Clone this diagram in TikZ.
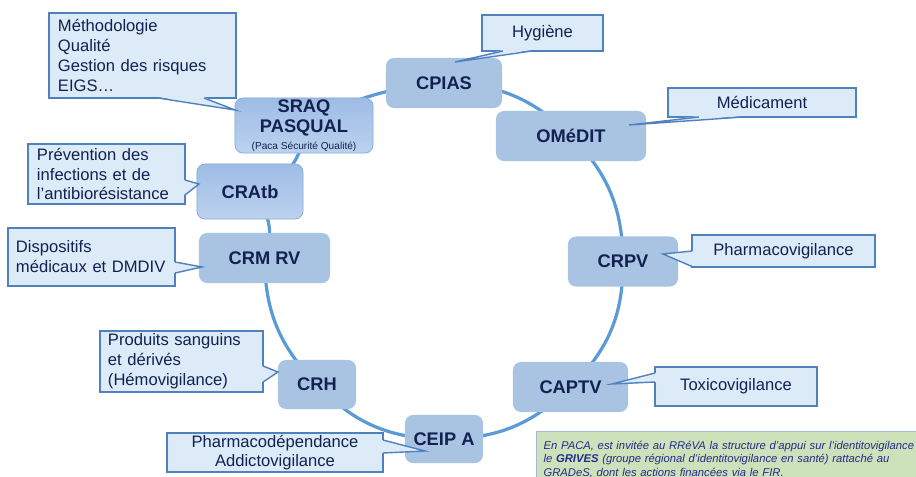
\documentclass[tikz,border=0pt]{standalone}
\usepackage{fontspec}
\setmainfont{Liberation Sans}
\usetikzlibrary{calc,backgrounds}
\definecolor{ringblue}{RGB}{91,155,213}
\definecolor{hubblue}{RGB}{168,196,226}
\definecolor{hubtop}{RGB}{158,188,228}
\definecolor{hubbottom}{RGB}{188,210,239}
\definecolor{hubline}{RGB}{140,176,220}
\definecolor{navy}{RGB}{18,33,82}
\definecolor{callfill}{RGB}{221,234,247}
\definecolor{callline}{RGB}{79,129,189}
\definecolor{notefill}{RGB}{205,226,186}
\definecolor{noteline}{RGB}{166,185,212}
\definecolor{noteblue}{RGB}{35,42,140}
\tikzset{
  hub/.style={rounded corners=0.2cm, fill=hubblue, text=navy, inner sep=0pt,
    align=center, font=\fontsize{13}{14}\selectfont\bfseries},
  hubshade/.style={hub, top color=hubtop, bottom color=hubbottom, draw=hubline, line width=0.6pt},
  ring/.style={draw=ringblue, line width=2.3pt},
  callbox/.style={draw=callline, fill=callfill, line width=1pt, outer sep=0pt, inner sep=0pt,
    text=navy, font=\fontsize{11.8}{14.2}\selectfont},
  callleft/.style={callbox, align=left, inner xsep=0.225cm},
  wedge/.style={draw=callline, line width=1pt, line join=miter},
  note/.style={draw=noteline, fill=notefill, line width=0.8pt, text=noteblue, align=left,
    font=\fontsize{8}{9.4}\selectfont\itshape, inner xsep=0.175cm, inner ysep=0.06cm}
}
\begin{document}
\begin{tikzpicture}[x=0.025cm,y=0.025cm]
  \useasboundingbox (0,0) rectangle (916,476);

  % vigilance structures round the ring
  \node[hub, minimum width=2.9cm, minimum height=1.25cm] (cpias) at (444,393) {CPIAS};
  \node[hub, minimum width=3.75cm, minimum height=1.25cm] (omedit) at (571,340) {OMéDIT};
  \node[hub, minimum width=2.75cm, minimum height=1.25cm] (crpv) at (623,214.5) {CRPV};
  \node[hub, minimum width=2.875cm, minimum height=1.25cm] (captv) at (570.5,89) {CAPTV};
  \node[hub, minimum width=1.95cm, minimum height=1.2cm] (ceip) at (444,37) {CEIP A};
  \node[hub, minimum width=1.95cm, minimum height=1.225cm] (crh) at (317,91.5) {CRH};
  \node[hub, minimum width=3.275cm, minimum height=1.25cm] (crmrv) at (264.5,218) {CRM RV};
  \node[hubshade, minimum width=2.65cm, minimum height=1.375cm] (cratb) at (250,284.5) {CRAtb};
  \node[hubshade, minimum width=3.45cm, minimum height=1.375cm] (sraq) at (304,350.5)
    {SRAQ\\PASQUAL\\[-2pt]{\fontsize{7.2}{8}\selectfont\mdseries (Paca Sécurité Qualité)}};

  \begin{scope}[on background layer]
    \draw[ring] (cpias.center) to[bend left=22] (omedit.center);
    \draw[ring] (omedit.center) to[bend left=22] (crpv.center);
    \draw[ring] (crpv.center) to[bend left=23] (captv.center);
    \draw[ring] (captv.center) to[bend left=22] (ceip.center);
    \draw[ring] (ceip.center) to[bend left=23] (crh.center);
    \draw[ring] (crh.center) to[bend left=22] (crmrv.center);
    \draw[ring] (crmrv.center) to[bend right=35] (cratb.center);
    \draw[ring] (cratb.center) to[bend right=40] (sraq.center);
    \draw[ring] (sraq.center) to[bend left=12] (cpias.center);
  \end{scope}

  % callouts
  \node[callleft, text width=4.225cm, minimum height=2.125cm] (meth) at (142.5,420.5)
    {Méthodologie\\Qualité\\Gestion des risques\\EIGS…};
  \node[callbox, minimum width=3.025cm, minimum height=0.9cm] (hyg) at (542.5,443) {Hygiène};
  \node[callbox, minimum width=4.7cm, minimum height=0.725cm] (medic) at (762,373.5) {Médicament};
  \node[callbox, minimum width=4.575cm, minimum height=0.8cm] (pharmv) at (783.5,225) {Pharmacovigilance};
  \node[callbox, minimum width=4.05cm, minimum height=0.975cm] (toxv) at (736,89.5) {Toxicovigilance};
  \node[callbox, align=center, font=\fontsize{11.8}{13.5}\selectfont, minimum width=5.4cm,
    minimum height=0.975cm] (pharmd) at (275,23.5) {Pharmacodépendance\\Addictovigilance};
  \node[callleft, inner xsep=0.2cm, text width=3.675cm, minimum height=1.525cm] (prod) at (181.5,114.5)
    {Produits sanguins\\et dérivés\\(Hémovigilance)};
  \node[callleft, inner xsep=0.2cm, text width=3.775cm, minimum height=1.45cm] (disp) at (91.5,219)
    {Dispositifs\\médicaux et \mbox{DMDIV}};
  \node[callleft, text width=3.475cm, minimum height=1.5cm] (prev) at (106.5,302)
    {Prévention des\\infections et de\\l’antibiorésistance};

  \coordinate (methtip) at (235,366);
  \coordinate (hygtip) at (455,414);
  \coordinate (medictip) at (629,351);
  \coordinate (pharmvtip) at (663,222);
  \coordinate (toxvtip) at (612,92);
  \coordinate (pharmdtip) at (425,25);
  \coordinate (prodtip) at (278,104);
  \coordinate (disptip) at (202,209);
  \coordinate (prevtip) at (199,292);

  \fill[callfill] ($(meth.south west)+(109,1)$) -- (methtip) -- ($(meth.south west)+(155,1)$) -- cycle;
  \draw[wedge] ($(meth.south west)+(109,0)$) -- (methtip) -- ($(meth.south west)+(155,0)$);
  \fill[callfill] ($(hyg.south west)+(21,1)$) -- (hygtip) -- ($(hyg.south west)+(50,1)$) -- cycle;
  \draw[wedge] ($(hyg.south west)+(21,0)$) -- (hygtip) -- ($(hyg.south west)+(50,0)$);
  \fill[callfill] ($(medic.south west)+(31,1)$) -- (medictip) -- ($(medic.south west)+(75,1)$) -- cycle;
  \draw[wedge] ($(medic.south west)+(31,0)$) -- (medictip) -- ($(medic.south west)+(75,0)$);
  \fill[callfill] ($(pharmv.south west)+(1,16)$) -- (pharmvtip) -- ($(pharmv.south west)+(1,1)$) -- cycle;
  \draw[wedge] ($(pharmv.south west)+(0,16)$) -- (pharmvtip) -- ($(pharmv.south west)+(0,0.5)$);
  \fill[callfill] ($(toxv.south west)+(1,33)$) -- (toxvtip) -- ($(toxv.south west)+(1,24)$) -- cycle;
  \draw[wedge] ($(toxv.south west)+(0,33)$) -- (toxvtip) -- ($(toxv.south west)+(0,24)$);
  \fill[callfill] ($(pharmd.south east)+(-1,32)$) -- (pharmdtip) -- ($(pharmd.south east)+(-1,19)$) -- cycle;
  \draw[wedge] ($(pharmd.south east)+(0,32)$) -- (pharmdtip) -- ($(pharmd.south east)+(0,19)$);
  \fill[callfill] ($(prod.south east)+(-1,26)$) -- (prodtip) -- ($(prod.south east)+(-1,10)$) -- cycle;
  \draw[wedge] ($(prod.south east)+(0,26)$) -- (prodtip) -- ($(prod.south east)+(0,10)$);
  \fill[callfill] ($(disp.south east)+(-1,24)$) -- (disptip) -- ($(disp.south east)+(-1,13)$) -- cycle;
  \draw[wedge] ($(disp.south east)+(0,24)$) -- (disptip) -- ($(disp.south east)+(0,13)$);
  \fill[callfill] ($(prev.south east)+(-1,24)$) -- (prevtip) -- ($(prev.south east)+(-1,9)$) -- cycle;
  \draw[wedge] ($(prev.south east)+(0,24)$) -- (prevtip) -- ($(prev.south east)+(0,9)$);

  % note on GRIVES
  \node[note, anchor=north west, text width=10.5cm, minimum height=1.4cm] (grives) at (536,45)
    {En PACA, est invitée au RRéVA la structure d’appui sur l’identitovigilance\\
     le \textbf{GRIVES} (groupe régional d’identitovigilance en santé) rattaché au\\
     GRADeS, dont les actions financées via le FIR.};
\end{tikzpicture}
\end{document}
